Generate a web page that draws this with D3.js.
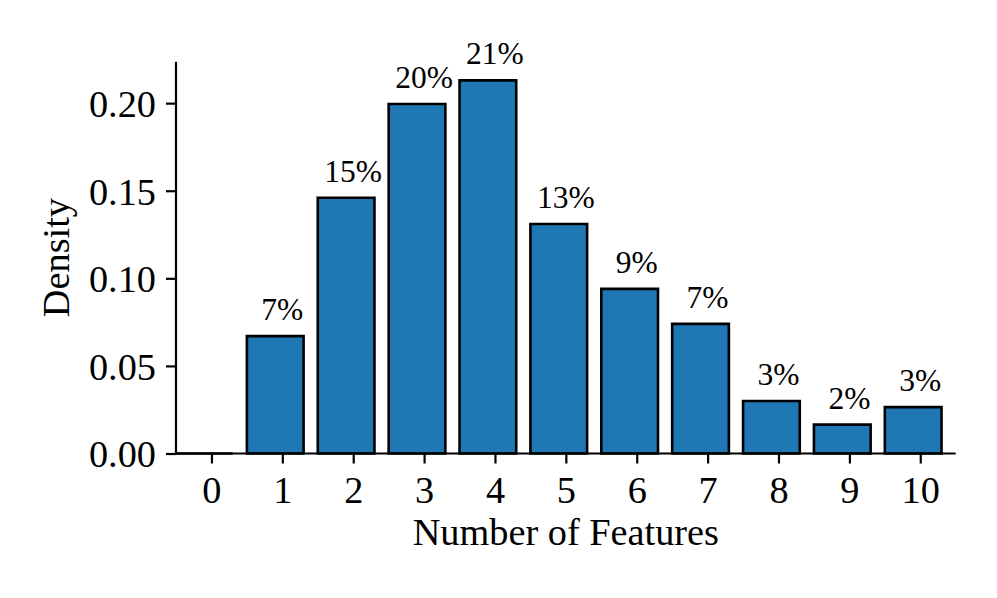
<!DOCTYPE html>
<html>
<head>
<meta charset="utf-8">
<script src="https://cdn.jsdelivr.net/npm/d3@7"></script>
<style>
  body { margin: 0; background: #fff; }
  text { font-family: "Liberation Serif", "Times New Roman", serif; fill: #000; }
</style>
</head>
<body>
<svg id="chart"></svg>
<script>
// data
const features = [0, 1, 2, 3, 4, 5, 6, 7, 8, 9, 10];
const density = [0, 0.067, 0.146, 0.1995, 0.213, 0.131, 0.094, 0.074, 0.030, 0.0165, 0.0265];
const yTicks = [0, 0.05, 0.10, 0.15, 0.20];

const size = { width: 997, height: 598 };
const plot = { left: 176, right: 955.7, top: 61.7, bottom: 453.5 };

const svg = d3.select('#chart')
  .attr('width', size.width)
  .attr('height', size.height);

// scales
const xScale = d3.scaleLinear()
  .domain([-0.5, 10.5])
  .range([plot.left, plot.right]);

const yScale = d3.scaleLinear()
  .domain([0, d3.max(density) * 1.05])
  .range([plot.bottom, plot.top]);

// bars: left edge at x - 0.5, width 0.8 (like the original)
svg.append('g')
  .selectAll('path')
  .data(features)
  .enter()
  .append('path')
  .attr('d', (f, i) => {
    const x0 = xScale(f - 0.5), x1 = xScale(f + 0.3);
    const y0 = yScale(0), y1 = yScale(density[i]);
    return `M${x0},${y0}H${x1}V${y1}H${x0}Z`;
  })
  .attr('fill', '#1f77b4')
  .attr('stroke', '#000')
  .attr('stroke-width', 2.6)
  .attr('stroke-linejoin', 'miter');

// percent labels, centred on the integer position
svg.append('g')
  .selectAll('text')
  .data(features.filter((f, i) => density[i] > 0))
  .enter()
  .append('text')
  .attr('x', f => xScale(f))
  .attr('y', f => yScale(density[f]) - 16)
  .attr('text-anchor', 'middle')
  .style('font-size', '31.5px')
  .text(f => Math.round(density[f] * 100) + '%');

// axes
const yAxis = svg.append('g')
  .attr('transform', `translate(${plot.left},0)`)
  .call(d3.axisLeft(yScale).tickValues(yTicks).tickFormat(d3.format('.2f')).tickSize(10).tickPadding(10));

const xAxis = svg.append('g')
  .attr('transform', `translate(0,${plot.bottom})`)
  .call(d3.axisBottom(xScale).tickValues(features).tickFormat(d3.format('d')).tickSize(10).tickPadding(10));

[yAxis, xAxis].forEach(ax => {
  ax.select('.domain').attr('stroke', '#000').attr('stroke-width', 2.2);
  ax.selectAll('.tick line').attr('stroke', '#000').attr('stroke-width', 2.2);
  ax.selectAll('.tick text')
    .style('font-size', '38.3px')
    .style('font-family', '"Liberation Serif", "Times New Roman", serif')
    .attr('fill', '#000');
});

// flat spine ends, no outer ticks
yAxis.select('.domain').attr('d', `M0,${plot.bottom}V${plot.top}`);
xAxis.select('.domain').attr('d', `M${plot.left},0H${plot.right}`);

yAxis.selectAll('.tick text').attr('dy', '0.35em');
xAxis.selectAll('.tick text').attr('dy', '0').attr('y', 49);

// axis titles
svg.append('text')
  .attr('transform', `translate(68.5,${(plot.top + plot.bottom) / 2}) rotate(-90)`)
  .attr('text-anchor', 'middle')
  .style('font-size', '38.3px')
  .text('Density');

svg.append('text')
  .attr('x', (plot.left + plot.right) / 2)
  .attr('y', 545)
  .attr('text-anchor', 'middle')
  .style('font-size', '38.3px')
  .text('Number of Features');
</script>
</body>
</html>
